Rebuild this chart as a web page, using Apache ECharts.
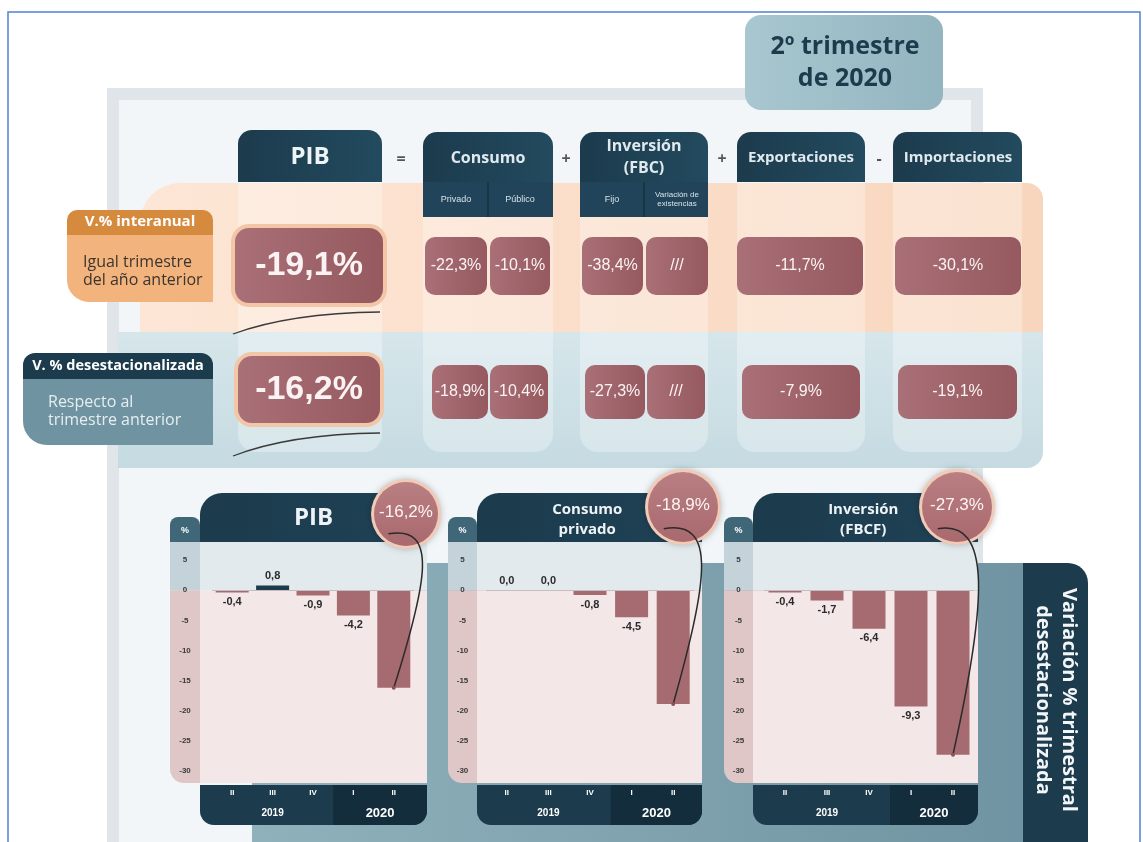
<!DOCTYPE html>
<html><head><meta charset="utf-8">
<script src="https://cdn.jsdelivr.net/npm/echarts@6.0.0/dist/echarts.min.js"></script>
<style>html,body{margin:0;padding:0;background:#fff}#main{width:1143px;height:842px}</style>
</head><body><div id="main"></div>
<script>
// ---------------- data ----------------
const quarters = ['II','III','IV','I','II'];
const yearLabels = ['2019','2020'];
const yTicks = [5,0,-5,-10,-15,-20,-25,-30];
const pibValues = [-0.4, 0.8, -0.9, -4.2, -16.2];
const pibLabels = ['-0,4','0,8','-0,9','-4,2',''];
const consumoValues = [0.0, 0.0, -0.8, -4.5, -18.9];
const consumoLabels = ['0,0','0,0','-0,8','-4,5',''];
const inversionValues = [-0.4, -1.7, -6.4, -19.3, -27.3];
const inversionLabels = ['-0,4','-1,7','-6,4','-9,3',''];
const panelTitles = ['PIB','Consumo\nprivado','Inversión\n(FBCF)'];
const panelBadges = ['-16,2%','-18,9%','-27,3%'];
const tableHeaders = ['PIB','Consumo','Inversión\n(FBC)','Exportaciones','Importaciones'];
const tableOperators = ['=','+','+','-'];
const tableSubHeaders = ['Privado','Público','Fijo','Variación de\nexistencias'];
const interanualValues = ['-19,1%','-22,3%','-10,1%','-38,4%','///','-11,7%','-30,1%'];
const desestValues = ['-16,2%','-18,9%','-10,4%','-27,3%','///','-7,9%','-19,1%'];
const rowTitles = ['V.% interanual','V. % desestacionalizada'];
const rowNotes = ['Igual trimestre\ndel año anterior','Respecto al\ntrimestre anterior'];
const periodTitle = '2º trimestre\nde 2020';
const sideTitle = 'Variación % trimestral\ndesestacionalizada';

const panelValues = [pibValues, consumoValues, inversionValues];
const panelLabels = [pibLabels, consumoLabels, inversionLabels];

// ---------------- layout ----------------
const NAVY = '#1c3b4d', NAVY_D = '#132d3c', MAUVE = '#a56b70';
const PANELS = [
  {strip:[170,200], plot:[200,427], grid:[212,414], circ:[406,514,32]},
  {strip:[448,477], plot:[477,702], grid:[486,694], circ:[683,507,35]},
  {strip:[724,753], plot:[753,978], grid:[764,974], circ:[957,507,35]},
];
const HDR_TOP = 493, PLOT_TOP = 542, PLOT_H = 241, XB_TOP = 785, XB_BOT = 825;
const HEADERS = [
  {x:238,y:130,w:144,h:52},
  {x:423,y:132,w:130,h:85,sub:[488]},
  {x:580,y:132,w:128,h:85,sub:[644]},
  {x:737,y:132,w:128,h:50},
  {x:893,y:132,w:129,h:50}
];
const OP_X = [401,566,722,879];
const SUB_POS = [[456,200],[520,200],[612,200],[677,199]];
const CELLS1 = [[235,228,148,75],[425,237,62,58],[490,237,60,58],[582,237,61,58],[646,237,62,58],[737,237,126,58],[895,237,126,58]];
const CELLS2 = [[238,356,142,67],[432,365,56,54],[490,365,58,54],[585,365,60,54],[647,365,58,54],[742,365,118,54],[898,365,119,54]];

const chart = echarts.init(document.getElementById('main'));

const option = {
  backgroundColor: '#ffffff',
  animation: false,
  grid: PANELS.map(p => ({left: p.grid[0], width: p.grid[1]-p.grid[0], top: PLOT_TOP, height: PLOT_H, containLabel: false})),
  xAxis: PANELS.map((p,i) => ({
    gridIndex: i, type: 'category', data: quarters,
    axisLine: {show:false}, axisTick: {show:false}, splitLine:{show:false},
    axisLabel: {color:'#ffffff', fontSize:8, fontWeight:'bold', fontFamily:'Liberation Sans', margin:6}
  })),
  yAxis: PANELS.map((p,i) => ({
    gridIndex: i, type: 'value', min: -32, max: 8,
    axisLine: {show:false}, axisTick: {show:false}, splitLine: {show:false},
    axisLabel: {customValues: yTicks, color:'#3a3a3a', fontSize:8, fontWeight:'bold', fontFamily:'Liberation Sans',
      align:'center', margin: p.grid[0] - (p.strip[0]+p.strip[1])/2}
  })),
  series: PANELS.map((p,i) => ({
    type: 'bar', xAxisIndex: i, yAxisIndex: i, barWidth: 33, z: 3,
    data: panelValues[i].map((v,j) => ({
      value: v,
      itemStyle: {color: v > 0 ? NAVY : MAUVE},
      label: {show: panelLabels[i][j] !== '', position: v >= 0 ? 'top' : 'bottom', distance: 4,
        formatter: panelLabels[i][j], color:'#2b2b2b', fontSize:11, fontWeight:'bold', fontFamily:'Liberation Sans'}
    })),
    markLine: {silent:true, symbol:'none', label:{show:false}, lineStyle:{color:'#c9bcbe', width:1, type:'solid'}, data:[{yAxis:0}]}
  }))
};
chart.setOption(option);

// ---------------- graphics ----------------
const G = [];
let zc = -600;
function add(el){ if (el.z === undefined) el.z = zc++; G.push(el); return el; }
function rect(x,y,w,h,fill,r,extra){ return add(Object.assign({type:'rect', shape:{x:x,y:y,width:w,height:h,r:r||0}, style:Object.assign({fill:fill}, extra||{})})); }
function text(x,y,str,o){
  o = o || {};
  return add({type:'text', x:x, y:y, rotation:o.rotation||0, z:o.z,
    style:{text:str, fill:o.fill||'#fff', fontSize:o.size||14, fontWeight:o.weight||'normal',
      fontFamily:o.family||'Open Sans', align:o.align||'center', textAlign:o.align||'center',
      verticalAlign:'middle', textVerticalAlign:'middle', lineHeight:o.lh||Math.round((o.size||14)*1.2)}});
}
function lin(c1,c2,vertical){ return {type:'linear', x:0, y:0, x2:vertical?0:1, y2:vertical?1:0, colorStops:[{offset:0,color:c1},{offset:1,color:c2}]}; }

// outer frame line
rect(8,12,1132,840,'none',0,{stroke:'#4f83cf', lineWidth:1.5});
// big light frame
rect(107,88,876,770,'#dfe5e8');
rect(119,100,852,760,'#f3f6f8');
// period box
rect(745,15,198,95,lin('#a8c7d0','#93b5c0'),16);
text(845,63,periodTitle,{fill:NAVY,size:25,weight:'bold',lh:32});

// bands
rect(140,183,903,150,lin('#fde6d6','#f8d6bd'),[40,16,0,0]);
rect(118,332,925,136,lin('#d6e6eb','#c5dbe1',true),[0,0,16,0]);
// column highlight strips
HEADERS.forEach(h => rect(h.x, h.y+h.h, h.w, 452-(h.y+h.h), 'rgba(255,255,255,0.30)', [0,0,18,18]));
// swoosh lines under PIB
add({type:'bezierCurve', shape:{x1:233,y1:334,x2:380,y2:312,cpx1:290,cpy1:313}, style:{stroke:'#3a3a3a', lineWidth:1.3, fill:null}});
add({type:'bezierCurve', shape:{x1:233,y1:456,x2:380,y2:433,cpx1:290,cpy1:434}, style:{stroke:'#3a3a3a', lineWidth:1.3, fill:null}});

// headers
HEADERS.forEach((h,i) => {
  rect(h.x,h.y,h.w,h.h,lin(NAVY,'#234a5e'),[14,14,0,0]);
  if (h.sub) {
    rect(h.x,h.y+50,h.w,h.h-50,'#21445a');
    h.sub.forEach(sx => rect(sx-1,h.y+50,2,h.h-50,'#183646'));
  }
});
text(310,157,tableHeaders[0],{size:24,weight:'bold',fill:'#eef3f5'});
text(488,158,tableHeaders[1],{size:16,weight:'bold',fill:'#dfe9ee'});
text(644,157,tableHeaders[2],{size:16,weight:'bold',fill:'#dfe9ee',lh:22});
text(801,158,tableHeaders[3],{size:15,weight:'bold',fill:'#dfe9ee'});
text(958,158,tableHeaders[4],{size:15,weight:'bold',fill:'#dfe9ee'});
tableOperators.forEach((op,i) => text(OP_X[i],159,op,{fill:'#555',size:16,weight:'bold'}));
tableSubHeaders.forEach((s,i) => text(SUB_POS[i][0],SUB_POS[i][1],s,{fill:'#d5e2e8',size:i===3?8:9,lh:9,family:'Liberation Sans'}));

// value cells
function cells(list, vals){
  list.forEach((c,i) => {
    const big = i === 0;
    if (big) rect(c[0]-4,c[1]-4,c[2]+8,c[3]+8,'#f3c6a8',18);
    rect(c[0],c[1],c[2],c[3],lin('#aa7077','#95595f'),big?14:10);
    text(c[0]+c[2]/2, c[1]+c[3]/2, vals[i], {family:'Liberation Sans', size:big?34:16, weight:big?'bold':'normal', fill:'#fbf3f3'});
  });
}
cells(CELLS1, interanualValues);
cells(CELLS2, desestValues);

// row labels
rect(67,233,146,69,'#f2b37d',[0,0,0,22]);
rect(67,210,146,25,'#d68a3e',[10,10,0,0]);
text(140,222,rowTitles[0],{size:15,weight:'bold'});
text(83,271,rowNotes[0],{size:16,fill:'#3b352f',align:'left',lh:18});
rect(23,378,190,67,'#6f93a0',[0,0,0,24]);
rect(23,353,190,26,NAVY,[12,12,0,0]);
text(118,366,rowTitles[1],{size:14.5,weight:'bold'});
text(48,411,rowNotes[1],{size:16,fill:'#e6eef1',align:'left',lh:18});

// bottom background
rect(252,563,771,290,lin('#8fb1bc','#7094a1'));
rect(1023,563,65,290,NAVY,[0,20,0,0]);
text(1056,700,sideTitle,{size:20,weight:'bold',rotation:-Math.PI/2,lh:26,fill:'#f2f6f8'});

// panels
const overlays = [];
PANELS.forEach((p,i) => {
  const zeroY = chart.convertToPixel({gridIndex:i},[0,0])[1];
  const px = p.plot[0], pw = p.plot[1]-p.plot[0];
  const sx = p.strip[0], sw = p.strip[1]-p.strip[0];
  const bottom = PLOT_TOP + PLOT_H;
  // strip
  rect(sx,517,sw,PLOT_TOP-517+1,'#3f6778',[8,8,0,0]);
  text(sx+sw/2,531,'%',{size:9,weight:'bold',family:'Liberation Sans'});
  rect(sx,PLOT_TOP,sw,zeroY-PLOT_TOP,'#c3d3d9');
  rect(sx,zeroY,sw,bottom-zeroY,'#dfc6c7',[0,0,0,14]);
  // plot bg
  rect(px,PLOT_TOP,pw,zeroY-PLOT_TOP,'#e3eaed');
  rect(px,zeroY,pw,bottom-zeroY,'#f4e7e8');
  // header
  rect(px,HDR_TOP,pw,PLOT_TOP-HDR_TOP,lin(NAVY,'#1f4255'),[22,0,0,0]);
  // x band
  const b = (chart.convertToPixel({gridIndex:i},[2,0])[0] + chart.convertToPixel({gridIndex:i},[3,0])[0]) / 2;
  rect(px,XB_TOP,pw,XB_BOT-XB_TOP,NAVY,[0,0,14,14]);
  rect(b,XB_TOP,p.plot[1]-b,XB_BOT-XB_TOP,NAVY_D,[0,0,14,0]);
  const c19 = chart.convertToPixel({gridIndex:i},[1,0])[0];
  text(c19,813,yearLabels[0],{size:10,weight:'bold',family:'Liberation Sans'});
  text((b+p.plot[1])/2,813,yearLabels[1],{size:13,weight:'bold',family:'Liberation Sans'});
  // title
  const two = panelTitles[i].indexOf('\n') >= 0;
  const tx = two ? px + pw*0.49 : px + pw*0.50;
  overlays.push({kind:'title', x:tx, y:two?520:518, txt:panelTitles[i], size:two?15:24});
  const last = chart.convertToPixel({gridIndex:i},[4, panelValues[i][4]]);
  overlays.push({kind:'badge', p:p, bx:last[0], by:last[1], txt:panelBadges[i]});
});
let zo = 200;
overlays.forEach(o => {
  if (o.kind === 'title') {
    text(o.x,o.y,o.txt,{size:o.size,weight:'bold',fill:'#eef3f5',lh:20,z:zo++});
  } else {
    const cx = o.p.circ[0], cy = o.p.circ[1], r = o.p.circ[2];
    add({type:'circle', z:zo++, shape:{cx:cx,cy:cy,r:r+3}, style:{fill:'#f1cbb8', shadowBlur:6, shadowColor:'rgba(0,0,0,0.25)'}});
    add({type:'circle', z:zo++, shape:{cx:cx,cy:cy,r:r}, style:{fill:lin('#b97f82','#a9696e',true)}});
    add({type:'bezierCurve', z:zo++, shape:{x1:cx-r*0.55, y1:cy+r*0.62, cpx1:cx+r*1.0, cpy1:cy+r*0.35, cpx2:o.bx+34, cpy2:o.by-(o.by-cy)*0.62, x2:o.bx, y2:o.by},
      style:{stroke:'#2a2a2a', lineWidth:1.5, fill:null}});
    add({type:'circle', z:zo++, shape:{cx:o.bx,cy:o.by,r:2}, style:{fill:'#8b4f55'}});
    text(cx,cy-2,o.txt,{size:17,family:'Liberation Sans',fill:'#fdf5f3',z:zo++});
  }
});

chart.setOption({graphic:{elements:G}});
</script>
</body></html>
